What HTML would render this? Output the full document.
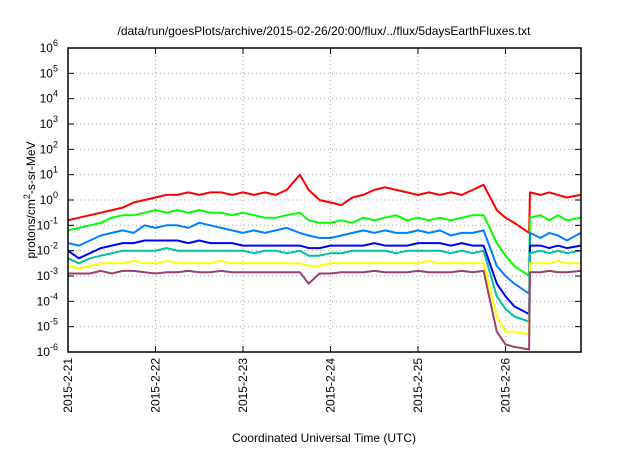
<!DOCTYPE html>
<html><head><meta charset="utf-8"><style>
body{margin:0;background:#fff;width:640px;height:448px;overflow:hidden}
svg{font-family:"Liberation Sans",sans-serif}
</style></head><body>
<svg id="chart" width="640" height="448" xmlns="http://www.w3.org/2000/svg">
<text x="324" y="35" font-size="12" text-anchor="middle">/data/run/goesPlots/archive/2015-02-26/20:00/flux/../flux/5daysEarthFluxes.txt</text>
<text transform="translate(35,200) rotate(-90)" font-size="12" text-anchor="middle">protons/cm<tspan dy="-5" font-size="9">2</tspan><tspan dy="5">-s-sr-MeV</tspan></text>
<text x="324" y="442" font-size="12" text-anchor="middle">Coordinated Universal Time (UTC)</text>
<g id="grid"></g><g id="series"></g><g id="axes"></g>
</svg>
<script>
const dayLabels=["2015-2-21","2015-2-22","2015-2-23","2015-2-24","2015-2-25","2015-2-26"];
const yExps=[-6,-5,-4,-3,-2,-1,0,1,2,3,4,5,6];
const times=[0,0.125,0.25,0.375,0.5,0.625,0.75,0.875,1,1.125,1.25,1.375,1.5,1.625,1.75,1.875,2,2.125,2.25,2.375,2.5,2.65,2.75,2.875,3,3.125,3.25,3.375,3.5,3.625,3.75,3.875,4,4.125,4.25,4.375,4.5,4.625,4.75,4.9,5.0,5.1,5.27,5.28,5.4,5.5,5.6,5.7,5.86];
const redLog=[-0.8,-0.7,-0.6,-0.5,-0.4,-0.3,-0.1,0.0,0.1,0.2,0.2,0.3,0.2,0.3,0.3,0.2,0.3,0.2,0.3,0.2,0.4,1.0,0.4,0.0,-0.1,-0.2,0.1,0.2,0.4,0.5,0.4,0.3,0.2,0.3,0.2,0.3,0.2,0.4,0.6,-0.4,-0.7,-0.9,-1.3,0.3,0.2,0.3,0.2,0.1,0.2];
const greenLog=[-1.2,-1.1,-1.0,-0.9,-0.7,-0.6,-0.6,-0.5,-0.4,-0.5,-0.4,-0.5,-0.4,-0.5,-0.5,-0.6,-0.5,-0.6,-0.7,-0.7,-0.6,-0.5,-0.8,-0.9,-0.9,-0.8,-0.9,-0.7,-0.8,-0.7,-0.6,-0.8,-0.7,-0.8,-0.7,-0.8,-0.7,-0.6,-0.6,-1.7,-2.2,-2.6,-3.0,-0.7,-0.6,-0.8,-0.6,-0.8,-0.7];
const lightBlueLog=[-1.7,-1.8,-1.6,-1.4,-1.3,-1.2,-1.3,-1.0,-1.1,-1.0,-1.0,-1.1,-0.9,-1.0,-1.1,-1.2,-1.3,-1.2,-1.3,-1.2,-1.1,-1.3,-1.4,-1.5,-1.5,-1.4,-1.3,-1.2,-1.3,-1.2,-1.3,-1.3,-1.2,-1.3,-1.2,-1.4,-1.3,-1.3,-1.2,-2.6,-3.0,-3.3,-3.7,-1.3,-1.5,-1.3,-1.4,-1.6,-1.3];
const blueLog=[-2.0,-2.3,-2.1,-1.9,-1.8,-1.7,-1.7,-1.6,-1.6,-1.6,-1.6,-1.7,-1.6,-1.7,-1.7,-1.7,-1.8,-1.8,-1.8,-1.8,-1.8,-1.8,-1.9,-1.9,-1.8,-1.8,-1.8,-1.8,-1.7,-1.8,-1.8,-1.8,-1.7,-1.7,-1.7,-1.8,-1.7,-1.8,-1.8,-3.3,-3.8,-4.2,-4.5,-1.8,-1.8,-1.9,-1.8,-1.9,-1.8];
const tealLog=[-2.3,-2.5,-2.3,-2.2,-2.1,-2.0,-2.0,-2.0,-2.0,-1.9,-2.0,-2.0,-2.0,-2.0,-2.0,-2.0,-2.0,-2.1,-2.0,-2.0,-2.1,-2.0,-2.2,-2.2,-2.1,-2.1,-2.0,-2.0,-2.0,-2.0,-2.1,-2.0,-2.0,-2.0,-2.0,-2.1,-2.0,-2.1,-2.0,-3.8,-4.3,-4.6,-4.8,-2.1,-2.0,-2.1,-2.0,-2.1,-2.0];
const yellowLog=[-2.6,-2.7,-2.6,-2.5,-2.5,-2.5,-2.4,-2.5,-2.5,-2.4,-2.5,-2.5,-2.5,-2.5,-2.4,-2.5,-2.5,-2.5,-2.5,-2.5,-2.5,-2.5,-2.6,-2.6,-2.5,-2.5,-2.5,-2.5,-2.5,-2.5,-2.5,-2.5,-2.5,-2.4,-2.5,-2.5,-2.5,-2.5,-2.5,-4.6,-5.2,-5.2,-5.3,-2.5,-2.5,-2.5,-2.4,-2.5,-2.5];
const purpleLog=[-2.9,-2.9,-2.9,-2.8,-2.9,-2.8,-2.8,-2.85,-2.9,-2.85,-2.85,-2.8,-2.85,-2.85,-2.8,-2.85,-2.85,-2.85,-2.85,-2.85,-2.85,-2.85,-3.3,-2.9,-2.9,-2.85,-2.85,-2.85,-2.8,-2.85,-2.85,-2.85,-2.8,-2.85,-2.85,-2.85,-2.8,-2.85,-2.8,-5.2,-5.7,-5.8,-5.9,-2.85,-2.85,-2.8,-2.85,-2.85,-2.8];
const seriesColors=["#ff0000","#00ff00","#0080ff","#0000ff","#00c0a0","#ffff00","#994070"];
const seriesNames=["red","green","light-blue","blue","teal","yellow","purple"];
const seriesData=[redLog,greenLog,lightBlueLog,blueLog,tealLog,yellowLog,purpleLog];
const L=68,R=581,T=48,B=352,dayW=87.5;
const xs=d=>L+d*dayW;
const ys=e=>B-(e+6)*(B-T)/12;
const NS="http://www.w3.org/2000/svg";
function mk(tag,at,parent){const e=document.createElementNS(NS,tag);for(const k in at)e.setAttribute(k,at[k]);document.getElementById(parent).appendChild(e);return e;}
yExps.forEach(e=>{
  const y=ys(e);
  if(e>-6&&e<6){const g=mk("line",{x1:L,x2:R,y1:y,y2:y,stroke:"#aaa","stroke-dasharray":"1,3","stroke-width":1},"grid");
  
  }
  const t=mk("text",{x:L-10,y:y+4,"font-size":12,"text-anchor":"end"},"axes");
  
  
  t.innerHTML="10<tspan dy='-6' font-size='9'>"+e+"</tspan>";
  mk("line",{x1:L,x2:L+6,y1:y,y2:y,stroke:"#000"},"axes");
  mk("line",{x1:R,x2:R-6,y1:y,y2:y,stroke:"#000"},"axes");
});
dayLabels.forEach((lab,i)=>{
  const x=xs(i);
  if(i>0){const g=mk("line",{x1:x,x2:x,y1:T,y2:B,stroke:"#aaa","stroke-dasharray":"1,3"},"grid");
  
  }
  mk("line",{x1:x,x2:x,y1:B,y2:B-6,stroke:"#000"},"axes");
  mk("line",{x1:x,x2:x,y1:T,y2:T+6,stroke:"#000"},"axes");
  const t=mk("text",{transform:`translate(${x+4},${B+6}) rotate(-90)`,"font-size":12,"text-anchor":"end"},"axes");
  
  
  t.textContent=lab;
});
seriesData.forEach((arr,si)=>{
  const pts=arr.map((v,i)=>xs(times[i]).toFixed(1)+","+ys(v).toFixed(1)).join(" ");
  const p=mk("polyline",{points:pts,fill:"none",stroke:seriesColors[si],"stroke-width":2,"stroke-linejoin":"round"},"series");
  
  
});
const f=mk("rect",{x:L,y:T,width:R-L,height:B-T,fill:"none",stroke:"#000","stroke-width":1.5},"axes");


</script>
</body></html>
